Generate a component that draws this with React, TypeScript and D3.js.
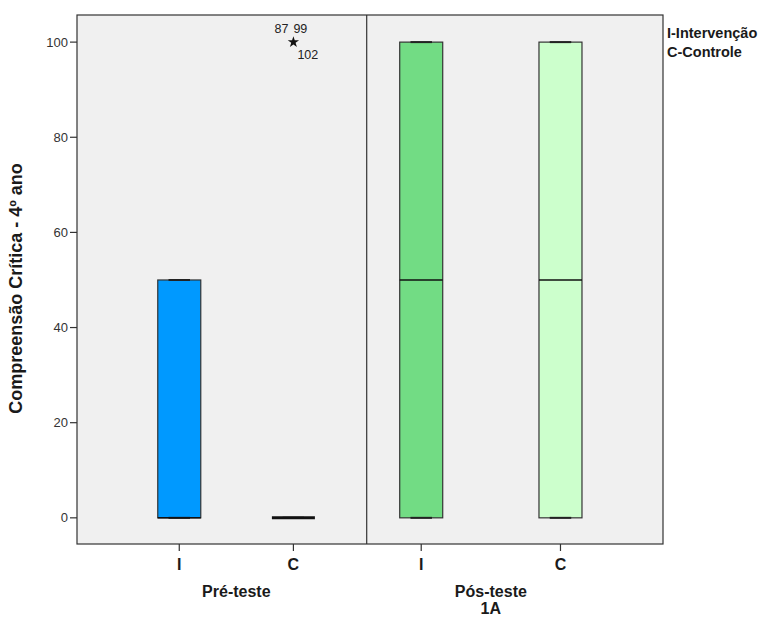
import React from "react";
import * as d3 from "d3";

const groups = ["Pré-teste", "Pós-teste"];
const categories = ["I", "C"];
// box stats per group/category, order: Pré I, Pré C, Pós I, Pós C
const boxGroup = ["Pré-teste", "Pré-teste", "Pós-teste", "Pós-teste"];
const boxCat = ["I", "C", "I", "C"];
const mins = [0, 0, 0, 0];
const q1s = [0, 0, 0, 0];
const medians = [0, 0, 50, 50];
const q3s = [50, 0, 100, 100];
const maxs = [50, 0, 100, 100];
const boxColors = ["#0099ff", "#0099ff", "#72dc84", "#ccffcc"];
const outlierGroup = ["Pré-teste"];
const outlierCat = ["C"];
const outlierValues = [100];
const outlierCases = [["87", "99", "102"]];
const yTicks = [0, 20, 40, 60, 80, 100];
const legendLines = ["I-Intervenção", "C-Controle"];
const yTitle = "Compreensão Crítica - 4º ano";
const xSubTitle = "1A";

const W = 775;
const H = 619;
const left = 77;
const right = 663;
const top = 15;
const bottom = 544;
const divider = 366.7;
// position of category ticks inside each panel (fraction of panel width)
const catPos: Record<string, [number, number]> = {
  "Pré-teste": [0.353, 0.747],
  "Pós-teste": [0.184, 0.654],
};

export default function App() {
  const y = d3.scaleLinear().domain([-5.5, 105.7]).range([bottom, top]);
  const panelEdges: Record<string, [number, number]> = {
    "Pré-teste": [left, divider],
    "Pós-teste": [divider, right],
  };
  const xScales: Record<string, d3.ScaleOrdinal<string, number>> = {};
  groups.forEach((g) => {
    const [a, b] = panelEdges[g];
    const sc = d3.scaleLinear().domain([0, 1]).range([a, b]);
    xScales[g] = d3
      .scaleOrdinal<string, number>()
      .domain(categories)
      .range(catPos[g].map((f) => sc(f)));
  });
  const boxW = 43;
  const font = "'Liberation Sans', Arial, sans-serif";
  const txt = "#1a1a1a";
  const postMid = d3.mean(categories.map((c) => xScales["Pós-teste"](c))) as number;

  return (
    <svg
      width={W}
      height={H}
      style={{ position: "absolute", left: 0, top: 0, background: "#fff" }}
      fontFamily={font}
    >
      <rect x={left} y={top} width={right - left} height={bottom - top} fill="#f0f0f0" stroke="#333" strokeWidth={1.2} />
      <line x1={divider} x2={divider} y1={top} y2={bottom} stroke="#333" strokeWidth={1.2} />

      {/* y axis ticks */}
      {yTicks.map((t) => (
        <g key={t}>
          <line x1={left - 7} x2={left} y1={y(t)} y2={y(t)} stroke="#333" strokeWidth={1.2} />
          <text x={left - 9} y={y(t)} dy="0.35em" textAnchor="end" fontSize={13} fill="#333">
            {t}
          </text>
        </g>
      ))}

      {/* y title */}
      <text
        transform={`translate(22,${(top + bottom) / 2 + 9}) rotate(-90)`}
        textAnchor="middle"
        fontSize={18}
        fontWeight="bold"
        fill={txt}
      >
        {yTitle}
      </text>

      {/* boxes */}
      {boxGroup.map((g, i) => {
        const cx = xScales[g](boxCat[i]);
        const x0 = cx - boxW / 2;
        const capW = boxW / 2;
        const flat = q1s[i] === q3s[i];
        return (
          <g key={i}>
            {!flat && (
              <rect
                x={x0}
                y={y(q3s[i])}
                width={boxW}
                height={y(q1s[i]) - y(q3s[i])}
                fill={boxColors[i]}
                stroke="#333"
                strokeWidth={1.2}
              />
            )}
            <line x1={cx} x2={cx} y1={y(maxs[i])} y2={y(q3s[i])} stroke="#333" />
            <line x1={cx} x2={cx} y1={y(mins[i])} y2={y(q1s[i])} stroke="#333" />
            <line x1={cx - capW / 2} x2={cx + capW / 2} y1={y(maxs[i])} y2={y(maxs[i])} stroke="#222" strokeWidth={2} />
            <line x1={cx - capW / 2} x2={cx + capW / 2} y1={y(mins[i])} y2={y(mins[i])} stroke="#222" strokeWidth={2} />
            <line
              x1={x0}
              x2={x0 + boxW}
              y1={y(medians[i])}
              y2={y(medians[i])}
              stroke="#111"
              strokeWidth={flat ? 3 : 1.5}
            />
          </g>
        );
      })}

      {/* outliers */}
      {outlierValues.map((v, i) => {
        const cx = xScales[outlierGroup[i]](outlierCat[i]);
        const cy = y(v);
        const star = d3.symbol().type(d3.symbolStar).size(40)();
        const cases = outlierCases[i];
        return (
          <g key={i}>
            <path d={star || ""} transform={`translate(${cx},${cy})`} fill="#111" />
            <text x={cx - 5} y={cy - 9} textAnchor="end" fontSize={12.5} fill="#222">
              {cases[0]}
            </text>
            <text x={cx + 0} y={cy - 9} textAnchor="start" fontSize={12.5} fill="#222">
              {cases[1]}
            </text>
            <text x={cx + 4} y={cy + 17} textAnchor="start" fontSize={12.5} fill="#222">
              {cases[2]}
            </text>
          </g>
        );
      })}

      {/* x axis */}
      {groups.map((g) => {
        const xs = categories.map((c) => xScales[g](c));
        const mid = d3.mean(xs) as number;
        return (
          <g key={g}>
            {categories.map((c) => (
              <g key={c}>
                <line x1={xScales[g](c)} x2={xScales[g](c)} y1={bottom} y2={bottom + 7} stroke="#333" strokeWidth={1.2} />
                <text x={xScales[g](c)} y={bottom + 26} textAnchor="middle" fontSize={16} fontWeight="bold" fill={txt}>
                  {c}
                </text>
              </g>
            ))}
            <text x={mid} y={597} textAnchor="middle" fontSize={16} fontWeight="bold" fill={txt}>
              {g}
            </text>
          </g>
        );
      })}
      <text x={postMid} y={614} textAnchor="middle" fontSize={16} fontWeight="bold" fill={txt}>
        {xSubTitle}
      </text>

      {/* legend */}
      {legendLines.map((l, i) => (
        <text key={l} x={667} y={38 + i * 19} fontSize={14.5} fontWeight="bold" fill={txt}>
          {l}
        </text>
      ))}
    </svg>
  );
}
